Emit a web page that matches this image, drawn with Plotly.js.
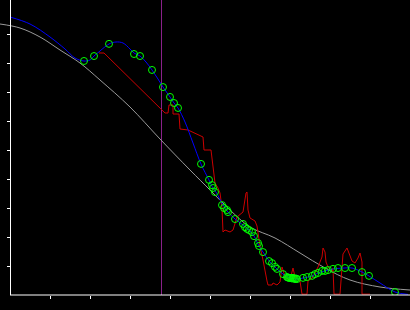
<!DOCTYPE html>
<html>
<head>
<meta charset="utf-8">
<script src="https://cdn.plot.ly/plotly-3.0.1.min.js"></script>
<style>html,body{margin:0;padding:0;background:#000;}#chart{width:410px;height:310px;}</style>
</head>
<body>
<div id="chart"></div>
<script>
// Reference (gray) curve
var refX = [-0.25,0.25,0.75,1.25,1.75,2.25,3.0,3.75,4.5,5.0,5.5,6.0,6.625,7.25,7.875,8.5,9.25,10];
var refY = [9.345,9.207,8.897,8.448,8.0,7.414,6.483,5.379,4.310,3.621,2.931,2.345,1.966,1.448,0.931,0.517,0.276,0.172];

// Fitted (blue) curve
var fitX = [0,0.5,1.0,1.375,1.625,1.85,2.0,2.1,2.25,2.475,2.65,2.825,3.0,3.1,3.25,3.4,3.55,3.7,3.825,4.0,4.1,4.2,4.375,4.575,4.775,4.975,5.075,5.15,5.325,5.45,5.625,5.825,5.975,6.1,6.225,6.325,6.5,6.675,6.825,7.0,7.175,7.325,7.55,7.7,7.875,8.075,8.375,8.55,8.8,8.975,9.25,9.625,9.95];
var fitY = [9.586,9.345,8.897,8.483,8.172,8.069,8.103,8.241,8.414,8.655,8.724,8.690,8.483,8.345,8.241,8.034,7.759,7.448,7.172,6.828,6.621,6.448,5.966,5.241,4.517,3.966,3.690,3.552,3.103,2.862,2.621,2.414,2.241,2.034,1.690,1.483,1.138,0.897,0.724,0.586,0.552,0.586,0.655,0.759,0.828,0.897,0.931,0.931,0.793,0.655,0.414,0.103,0.02];

// Raw (red) series
var rawX = [2.225,2.35,3.875,3.95,3.975,4.075,4.075,4.225,4.25,4.45,4.825,4.85,5.025,5.075,5.125,5.2,5.25,5.3,5.325,5.375,5.5,5.575,5.675,5.825,5.9,5.925,5.95,6.0,6.125,6.175,6.25,6.325,6.375,6.425,6.45,6.55,6.575,6.675,6.75,6.8,6.825,6.875,7.0,7.05,7.075,7.125,7.25,7.3,7.425,7.45,7.55,7.625,7.7,7.8,7.825,7.875,7.9,7.95,8.05,8.075,8.1,8.25,8.3,8.325,8.425,8.475,8.55,8.625,8.7,8.75,8.8,8.8,9.0];
var rawY = [8.345,8.345,6.276,6.276,6.552,6.552,6.241,6.241,5.724,5.690,5.448,5.0,5.0,4.483,3.862,3.690,3.517,3.0,2.172,2.241,2.172,2.241,2.690,2.862,3.517,3.552,2.931,2.655,2.552,2.379,1.690,1.207,0.793,0.483,0.345,0.345,0.414,0.345,0.448,0.966,0.862,0.621,0.517,0.862,0.931,0.621,0.483,0.03,0.03,0.483,0.586,0.759,0.966,1.310,1.621,1.483,1.138,0.966,0.828,0.931,0.03,0.03,0.862,1.414,1.621,1.448,1.172,1.103,1.276,1.448,1.138,0.03,0.03];

// Observations (green circles)
var obsX = [1.85,2.1,2.475,3.1,3.25,3.55,3.825,4.0,4.1,4.2,4.775,4.975,5.05,5.075,5.125,5.3,5.35,5.425,5.45,5.625,5.825,5.875,5.925,5.975,6.05,6.1,6.2,6.225,6.325,6.475,6.55,6.625,6.675,6.825,6.925,6.95,6.975,7.0,7.025,7.05,7.075,7.1,7.125,7.15,7.175,7.325,7.425,7.55,7.625,7.7,7.8,7.875,7.95,8.075,8.2,8.375,8.55,8.8,8.975,9.625];
var obsY = [8.07,8.24,8.66,8.31,8.24,7.76,7.17,6.83,6.62,6.45,4.52,3.97,3.79,3.69,3.55,3.10,3.0,2.93,2.86,2.62,2.45,2.34,2.28,2.24,2.17,2.03,1.79,1.69,1.48,1.17,1.10,0.97,0.90,0.72,0.62,0.60,0.59,0.59,0.59,0.57,0.59,0.57,0.55,0.57,0.55,0.59,0.62,0.66,0.72,0.76,0.83,0.83,0.86,0.90,0.93,0.93,0.93,0.79,0.66,0.10];

var xTicks = [1,2,3,4,5,6,7,8,9,10];
var yTicks = [1,2,3,4,5,6,7,8,9];
var markerX = 3.7875;

var traces = [
  {x: refX, y: refY, type: 'scatter', mode: 'lines', line: {color: '#9a9a9a', width: 1, shape: 'spline'}, hoverinfo: 'skip'},
  {x: rawX, y: rawY, type: 'scatter', mode: 'lines', line: {color: '#cc0000', width: 1}, hoverinfo: 'skip'},
  {x: fitX, y: fitY, type: 'scatter', mode: 'lines', line: {color: '#0000ff', width: 1, shape: 'spline'}, hoverinfo: 'skip'},
  {x: obsX, y: obsY, type: 'scatter', mode: 'markers', marker: {symbol: 'circle-open', size: 7, color: '#00ff00', line: {width: 1, color: '#00ff00'}}, hoverinfo: 'skip'}
];

var layout = {
  width: 410, height: 310,
  margin: {l: 0, r: 0, t: 0, b: 15, pad: 0},
  paper_bgcolor: '#000', plot_bgcolor: '#000',
  showlegend: false,
  xaxis: {range: [-0.25, 10], showgrid: false, zeroline: false, showline: false,
          ticks: 'outside', ticklen: 3, tickwidth: 1, tickcolor: '#fff',
          tickmode: 'array', tickvals: xTicks, showticklabels: false, fixedrange: true},
  yaxis: {range: [0, 295/29], anchor: 'free', position: 10/410, showgrid: false, zeroline: false,
          showline: true, linecolor: '#fff', linewidth: 1,
          ticks: 'outside', ticklen: 3, tickwidth: 1, tickcolor: '#fff',
          tickmode: 'array', tickvals: yTicks, showticklabels: false, fixedrange: true},
  shapes: [
    {type: 'line', xref: 'paper', yref: 'paper', x0: 10/410, x1: 1, y0: 0, y1: 0, line: {color: '#fff', width: 1}},
    {type: 'line', xref: 'x', yref: 'paper', x0: markerX, x1: markerX, y0: 0, y1: 1, layer: 'below', line: {color: '#8a208a', width: 1}}
  ]
};

Plotly.newPlot('chart', traces, layout, {staticPlot: true, displayModeBar: false});
</script>
</body>
</html>
